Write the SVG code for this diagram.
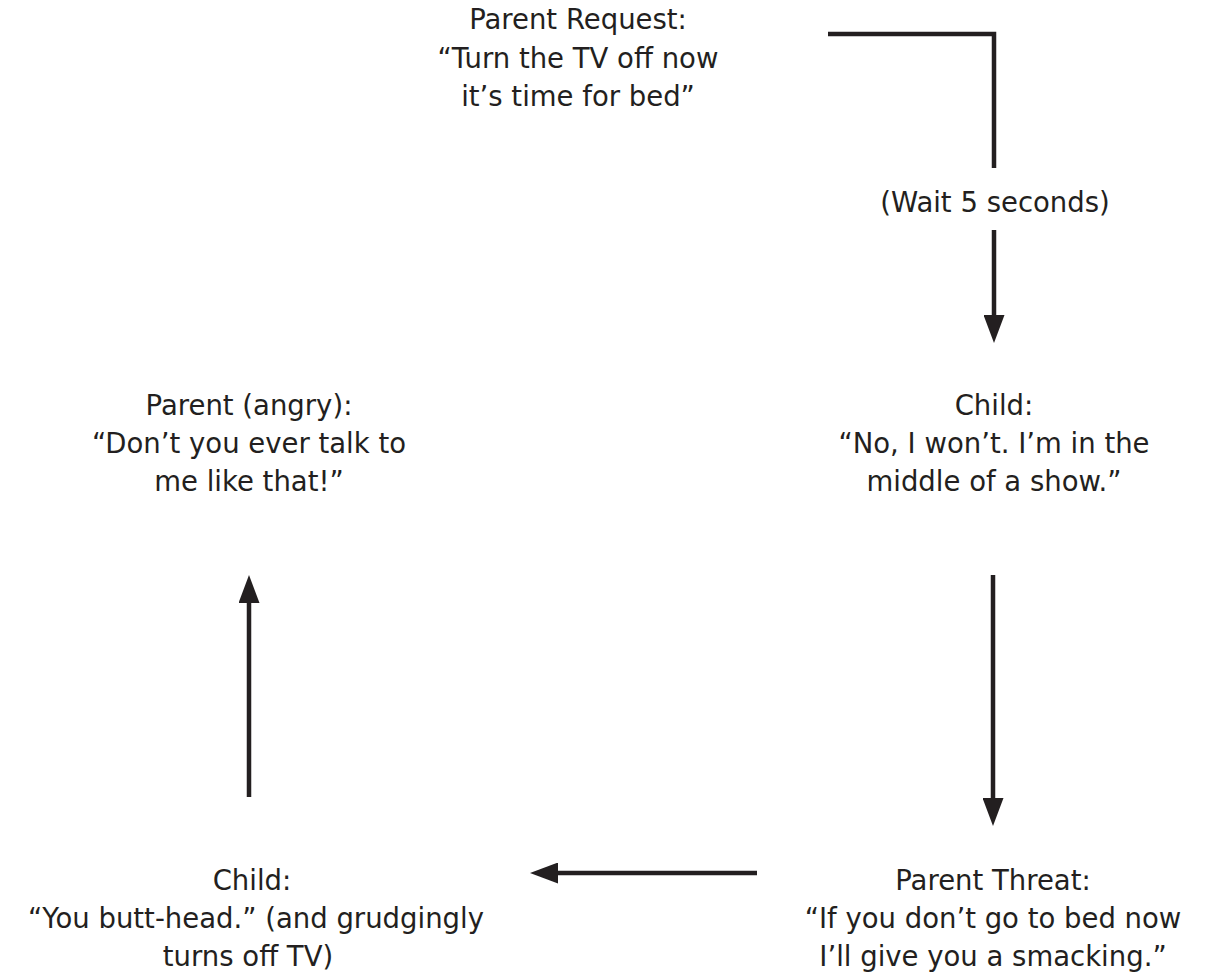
<svg xmlns="http://www.w3.org/2000/svg" width="1207" height="974" viewBox="0 0 1207 974">
<defs>
<style>
text{font-family:"DejaVu Sans","Liberation Sans",sans-serif;font-size:27.5px;fill:#231f20;text-anchor:middle}
.c{stroke:#231f20;stroke-width:4.5;fill:none;stroke-linejoin:miter}
</style>
<marker id="ah" viewBox="0 0 28 21" markerWidth="28" markerHeight="21" refX="4" refY="10.5" orient="auto" markerUnits="userSpaceOnUse">
<path d="M0,0 L28,10.5 L0,21 Z" fill="#231f20"/>
</marker>
</defs>
<rect width="1207" height="974" fill="#ffffff"/>
<g id="connectors">
<path class="c" d="M828,34 H994 V168"/>
<line class="c" x1="994" y1="230" x2="994" y2="319" marker-end="url(#ah)"/>
<line class="c" x1="993" y1="575" x2="993" y2="802" marker-end="url(#ah)"/>
<line class="c" x1="757" y1="873" x2="554" y2="873" marker-end="url(#ah)"/>
<line class="c" x1="249" y1="797" x2="249" y2="599" marker-end="url(#ah)"/>
</g>
<g id="parent-request">
<text x="578" y="29">Parent Request:</text>
<text x="578" y="68">“Turn the TV off now</text>
<text x="578" y="106">it’s time for bed”</text>
</g>
<g id="wait">
<text x="995" y="212">(Wait 5 seconds)</text>
</g>
<g id="child-refuses">
<text x="994" y="415">Child:</text>
<text x="994" y="453">“No, I won’t. I’m in the</text>
<text x="994" y="491">middle of a show.”</text>
</g>
<g id="parent-angry">
<text x="249" y="415">Parent (angry):</text>
<text x="249" y="453">“Don’t you ever talk to</text>
<text x="249" y="491">me like that!”</text>
</g>
<g id="parent-threat">
<text x="993" y="890">Parent Threat:</text>
<text x="993" y="928">“If you don’t go to bed now</text>
<text x="993" y="966">I’ll give you a smacking.”</text>
</g>
<g id="child-insult">
<text x="252" y="890">Child:</text>
<text x="256" y="928">“You butt-head.” (and grudgingly</text>
<text x="248" y="966">turns off TV)</text>
</g>
</svg>
